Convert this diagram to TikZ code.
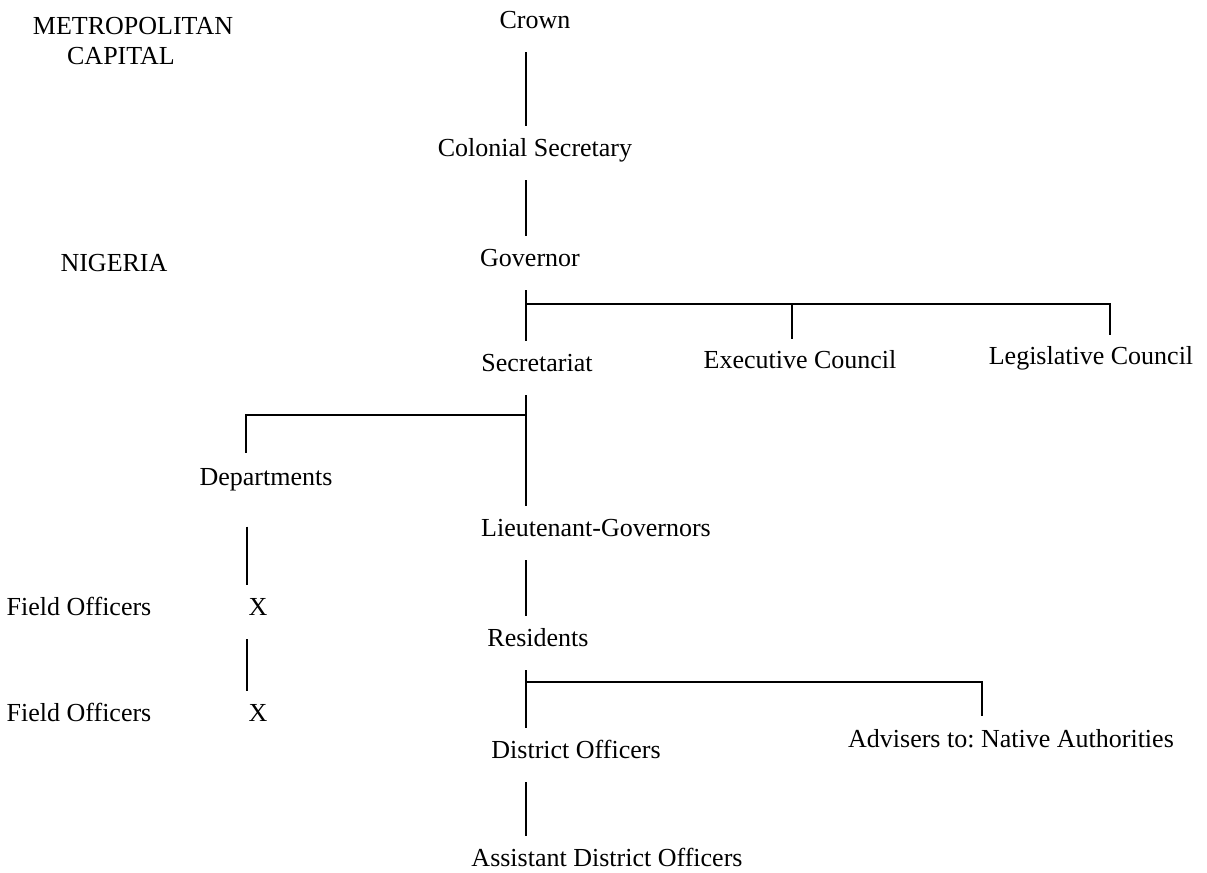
\documentclass[tikz,border=0pt]{standalone}
\usepackage{fontspec}
\setmainfont{Liberation Serif}
\usetikzlibrary{positioning,calc}

\begin{document}
\begin{tikzpicture}[
    x=0.4pt, y=-0.4pt,
    office/.style={inner sep=0pt, text height=7.5pt, text depth=2.3pt, font=\fontsize{10.4pt}{12pt}\selectfont\frenchspacing},
    region/.style={office},
    link/.style={line width=0.8pt, shorten <=12pt, shorten >=9.5pt},
    branch/.style={line width=0.8pt}
]
    \useasboundingbox (0,0) rectangle (1207,873);
    \coordinate (spine) at (526,0);
    \coordinate (deptcol) at (247,0);

    % Metropolitan level
    \node[region] (metro) at (133,28) {METROPOLITAN};
    \node[region] (capital) at (121,58) {CAPITAL};
    \node[office] (crown) at (535,22) {Crown};
    \node[office] (colsec) at (535,150) {Colonial Secretary};

    % Nigeria: central government
    \node[region] (nigeria) at (114,265) {NIGERIA};
    \node[office] (governor) at (530,260) {Governor};
    \node[office] (secretariat) at (537,365) {Secretariat};
    \node[office] (exec) at (800,362) {Executive Council};
    \node[office] (legis) at (1091,358) {Legislative Council};

    % Departments and field staff
    \node[office] (dept) at (266,479) {Departments};
    \node[office] (xone) at (258,609) {X};
    \node[office] (xtwo) at (258,715) {X};
    \node[region] (fieldone) at (79,609) {Field Officers};
    \node[region] (fieldtwo) at (79,715) {Field Officers};

    % Provincial administration
    \node[office] (lieut) at (596,530) {Lieutenant-Governors};
    \node[office] (residents) at (538,640) {Residents};
    \node[office] (district) at (576,752) {District Officers};
    \node[office] (advisers) at (1011,741) {Advisers to: Native Authorities};
    \node[office] (assistant) at (607,860) {Assistant District Officers};

    % Main line of command
    \draw[link] (crown -| spine) -- (colsec -| spine);
    \draw[link] (colsec -| spine) -- (governor -| spine);
    \draw[link] (governor -| spine) -- (secretariat -| spine);
    \draw[link] (secretariat -| spine) -- (lieut -| spine);
    \draw[link] (lieut -| spine) -- (residents -| spine);
    \draw[link] (residents -| spine) -- (district -| spine);
    \draw[link] (district -| spine) -- (assistant -| spine);
    \draw[link, shorten <=19pt] (dept -| deptcol) -- (xone -| deptcol);
    \draw[link] (xone -| deptcol) -- (xtwo -| deptcol);

    % Side branches
    \coordinate (govjoin) at (526,304);
    \coordinate (execdrop) at ([xshift=-3.2pt, yshift=4pt]exec.north);
    \draw[branch] (govjoin) -| ([xshift=7.6pt, yshift=4pt]legis.north);
    \draw[branch] (govjoin -| execdrop) -- (execdrop);
    \coordinate (secjoin) at (526,415);
    \draw[branch] (secjoin) -| ([xshift=-8pt, yshift=5.2pt]dept.north);
    \coordinate (resjoin) at (526,682);
    \draw[branch] (resjoin) -| ([xshift=-11.6pt, yshift=4.8pt]advisers.north);
\end{tikzpicture}
\end{document}
